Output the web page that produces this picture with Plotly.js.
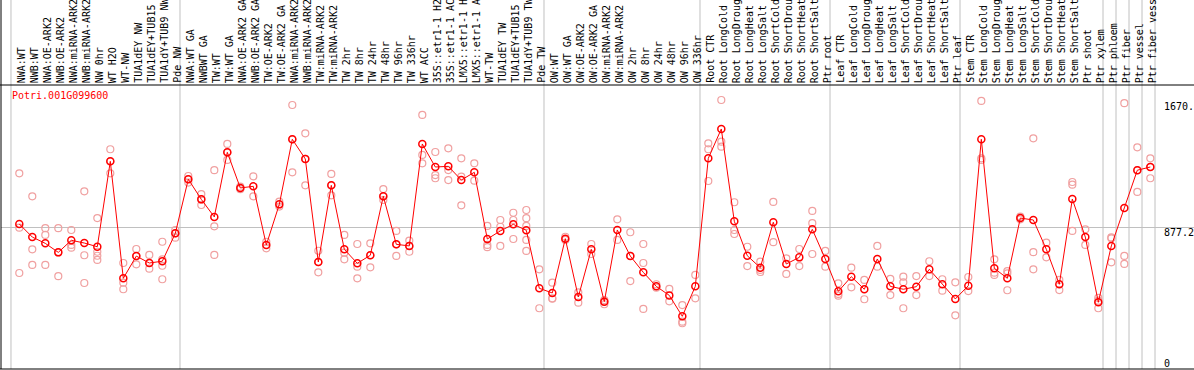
<!DOCTYPE html>
<html>
<head>
<meta charset="utf-8">
<script src="https://cdn.plot.ly/plotly-3.0.1.min.js"></script>
<style>html,body{margin:0;padding:0;background:#fff;}#chart{width:1194px;height:370px;}</style>
</head>
<body>
<div id="chart"></div>
<script>
var geneName = "Potri.001G099600";

var categories = [
"NWA:WT","NWB:WT","NWA:OE-ARK2","NWB:OE-ARK2","NWA:miRNA-ARK2","NWB:miRNA-ARK2","NW 0hr","WT H2O","WT-NW","TUA1dEY NW","TUA1dEY+TUB15 NW","TUA1dY+TUB9 NW","Pde NW",
"NWA:WT GA","NWBWT GA","TW:WT","TW:WT GA","NWA:OE-ARK2 GA","NWB:OE-ARK2 GA","TW:OE-ARK2","TW:OE-ARK2 GA","NWA:miRNA-ARK2 GA","NWB:miRNA-ARK2 GA","TW:miRNA-ARK2","TW:miRNA-ARK2 GA","TW 2hr","TW 8hr","TW 24hr","TW 48hr","TW 96hr","TW 336hr","WT ACC","35S::etr1-1 H2O","35S::etr1-1 ACC","LMX5::etr1-1 H2O","LMX5::etr1-1 ACC","WT-TW","TUA1dEY TW","TUA1dEY+TUB15 TW","TUA1dY+TUB9 TW","Pde TW",
"OW:WT","OW:WT GA","OW:OE-ARK2","OW:OE-ARK2 GA","OW:miRNA-ARK2","OW:miRNA-ARK2 GA","OW 2hr","OW 8hr","OW 24hr","OW 48hr","OW 96hr","OW 336hr",
"Root CTR","Root LongCold","Root LongDrought","Root LongHeat","Root LongSalt","Root ShortCold","Root ShortDrought","Root ShortHeat","Root ShortSalt","Ptr root",
"Leaf CTR","Leaf LongCold","Leaf LongDrought","Leaf LongHeat","Leaf LongSalt","Leaf ShortCold","Leaf ShortDrought","Leaf ShortHeat","Leaf ShortSalt","Ptr leaf",
"Stem CTR","Stem LongCold","Stem LongDrought","Stem LongHeat","Stem LongSalt","Stem ShortCold","Stem ShortDrought","Stem ShortHeat","Stem ShortSalt","Ptr shoot","Ptr xylem",
"Ptr phloem","Ptr fiber","Ptr vessel","Ptr fiber vessel"
];

// group boundaries: index (1-based) of last category before each separator
var separatorsAfter = [0, 13, 41, 53, 63, 73, 84, 85, 86, 87, 88];

var meanValues = [
900, 819, 780, 724, 799, 782, 759, 1289, 563, 701, 658, 669, 842,
1178, 1053, 944, 1345, 1124, 1134, 770, 1022, 1426, 1304, 664, 1140, 743, 656, 706, 1072, 774, 764, 1397, 1254, 1258, 1173, 1221, 807, 857, 898, 861, 501,
472, 809, 447, 743, 418, 863, 701, 600, 513, 457, 327, 513,
1308, 1490, 917, 703, 629, 911, 652, 693, 867, 683,
482, 573, 495, 683, 513, 495, 511, 619, 526, 435,
517, 1426, 625, 563, 937, 925, 743, 526, 1055, 819, 414,
764, 1000, 1234, 1254
];

var replicateValues = [
[1215, 877, 596], [1072, 743, 646], [874, 832, 646], [874, 724, 576], [863, 770, 753], [1103, 706, 534], [937, 728, 703, 677], [1364, 1289, 1215], [658, 536, 495], [745, 701, 650], [708, 658, 623], [790, 641, 557, 680], [863, 842, 815],
[1198, 1178, 1157], [1086, 1053, 1018], [1234, 886, 708], [1397, 1345, 1298], [1132, 1116], [1196, 1072], [790, 749], [1039, 1008], [1639, 1426, 1221], [1463, 1304, 1140], [734, 664, 600], [1211, 1140, 1078], [832, 722, 681], [776, 635, 563], [780, 706, 631], [1117, 1072, 1049], [857, 774, 702], [797, 764, 728], [1577, 1329, 1277], [1347, 1204, 1184], [1370, 1235, 1173], [1308, 1194, 1016], [1277, 1169], [888, 770, 756], [925, 883, 764], [970, 925, 807], [987, 936, 888, 801, 733], [619, 377],
[536, 439, 436], [821, 801], [476, 412], [776, 714], [428, 402, 418], [929, 801], [849, 546, 702], [776, 658, 373], [526, 505], [497, 420], [397, 294, 284], [584, 439],
[1401, 1364, 1167], [1670, 1411, 1380], [1035, 863, 838], [759, 639], [666, 615, 602], [1037, 787], [687, 590], [745, 639], [981, 905, 714], [733, 635],
[532, 466, 455], [629, 507], [553, 433], [764, 635], [559, 459], [573, 538, 377], [577, 459], [669, 577], [557, 486], [538, 333],
[571, 484], [1664, 1308, 1298], [681, 598, 584], [608, 594, 489], [946, 929], [1432, 725, 619], [784, 693], [553, 490], [1161, 1144, 857], [867, 770], [424, 377, 441],
[811, 817, 662], [1650, 702, 652], [1376, 1099, 1234], [1308, 1184, 1254]
];

var axisTickValues = [0, 877.2, 1670];
var axisTickLabels = ["0", "877.2", "1670."];
var yMax = 1763;

var mono = "DejaVu Sans Mono, Liberation Mono, monospace";

var xIdx = categories.map(function(c, i){ return i + 1; });
var repX = [], repY = [];
replicateValues.forEach(function(arr, i){
  arr.forEach(function(v){ repX.push(i + 1); repY.push(v); });
});

var traces = [
  {
    x: repX, y: repY, type: "scatter", mode: "markers",
    marker: {symbol: "circle-open", size: 7, color: "#f0a0a0", line: {width: 1.2, color: "#f0a0a0"}},
    hoverinfo: "skip", showlegend: false
  },
  {
    x: xIdx, y: meanValues, type: "scatter", mode: "lines+markers",
    line: {color: "#ff0000", width: 1},
    marker: {symbol: "circle-open", size: 7, color: "#ff0000", line: {width: 1.5, color: "#ff0000"}},
    hoverinfo: "skip", showlegend: false
  }
];

var shapes = [];
separatorsAfter.forEach(function(s){
  shapes.push({type: "line", xref: "x", yref: "paper", x0: s + 0.36, x1: s + 0.36, y0: 0, y1: 1.31,
    line: {color: "#c0c0c0", width: 1}, layer: "below"});
});
// frame lines
shapes.push({type: "line", xref: "paper", yref: "paper", x0: -0.01, x1: 1.01, y0: 1, y1: 1, line: {color: "#000", width: 1}});
shapes.push({type: "line", xref: "paper", yref: "paper", x0: 0, x1: 0, y0: 0, y1: 1.31, line: {color: "#000", width: 1}});
shapes.push({type: "line", xref: "paper", yref: "paper", x0: -0.01, x1: 1.01, y0: 0, y1: 0, line: {color: "#000", width: 1}});

var annotations = [];
categories.forEach(function(c, i){
  annotations.push({x: i + 1, xref: "x", y: 1, yref: "paper", yanchor: "bottom", xanchor: "center",
    xshift: 2, yshift: 0, text: c, textangle: -90, showarrow: false, font: {family: mono, size: 10, color: "#000"}});
});
annotations.push({x: 0.0075, xref: "paper", y: 1, yref: "paper", xanchor: "left", yanchor: "top", yshift: -3,
  text: geneName, showarrow: false, font: {family: mono, size: 10, color: "#ff0000"}});
var shifts = [6, -5, -7];
axisTickValues.forEach(function(v, k){
  annotations.push({x: 0.9735, xref: "paper", y: v, yref: "y", xanchor: "left", yanchor: "middle", yshift: shifts[k],
    text: axisTickLabels[k], showarrow: false, font: {family: mono, size: 10, color: "#000"}});
});

var layout = {
  width: 1194, height: 370,
  margin: {l: 1, r: 0, t: 85, b: 1, pad: 0},
  paper_bgcolor: "#fff", plot_bgcolor: "#fff",
  showlegend: false,
  xaxis: {range: [-0.408, 91.36], showgrid: false, zeroline: false, showticklabels: false, ticks: "", showline: false},
  yaxis: {range: [0, yMax], tickvals: [axisTickValues[1]], showgrid: true, gridcolor: "#c0c0c0", gridwidth: 1,
    zeroline: false, showticklabels: false, ticks: "", showline: false},
  shapes: shapes,
  annotations: annotations
};

Plotly.newPlot("chart", traces, layout, {staticPlot: true, displayModeBar: false});
</script>
</body>
</html>
